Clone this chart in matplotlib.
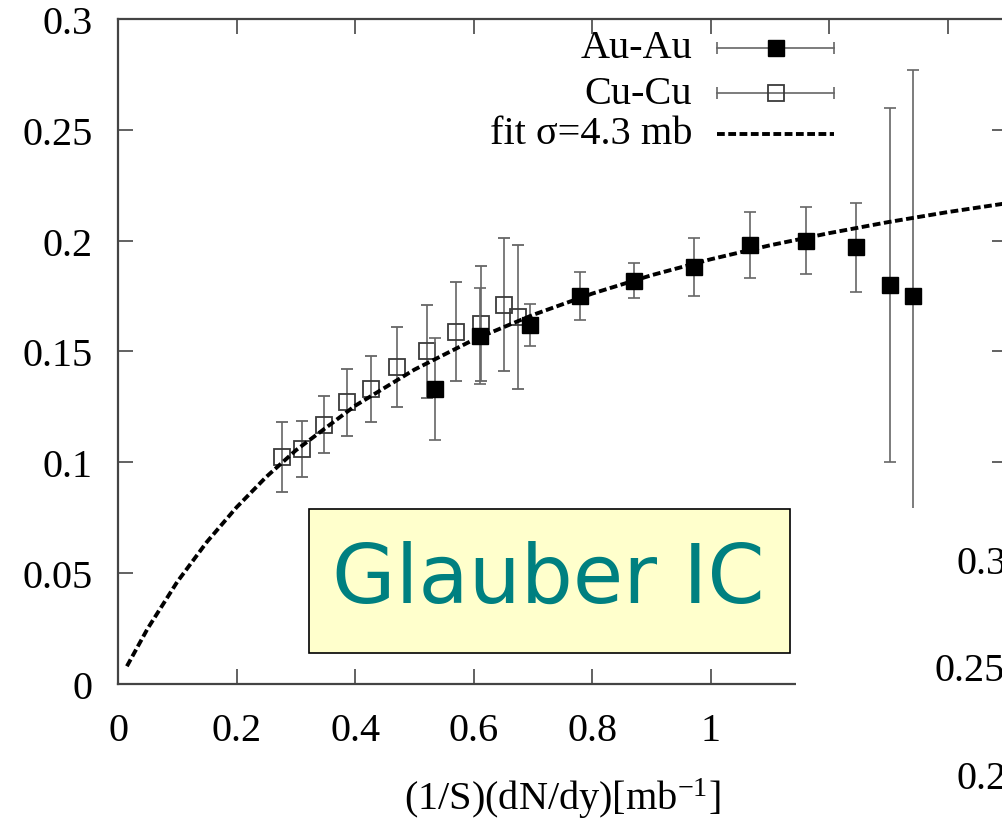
import matplotlib
matplotlib.use("Agg")
import matplotlib.pyplot as plt
from matplotlib.patches import Rectangle
from matplotlib.ticker import FormatStrFormatter, MultipleLocator

plt.rcParams['font.family'] = ['Liberation Serif', 'DejaVu Serif']
plt.rcParams['mathtext.fontset'] = 'custom'
plt.rcParams['mathtext.rm'] = 'Liberation Serif'
plt.rcParams['mathtext.it'] = 'Liberation Serif:italic'

# Au-Au points (filled squares)
au_x = [0.535, 0.611, 0.695, 0.780, 0.871, 0.972, 1.067, 1.161, 1.245, 1.303, 1.342]
au_y = [0.133, 0.157, 0.162, 0.175, 0.182, 0.188, 0.198, 0.200, 0.197, 0.180, 0.175]
au_err = [0.023, 0.0215, 0.0095, 0.011, 0.008, 0.013, 0.015, 0.015, 0.020, 0.080, 0.102]

# Cu-Cu points (open squares)
cu_x = [0.277, 0.311, 0.348, 0.387, 0.427, 0.471, 0.521, 0.570, 0.613, 0.651, 0.675]
cu_y = [0.1024, 0.106, 0.117, 0.127, 0.133, 0.143, 0.150, 0.159, 0.1625, 0.171, 0.1655]
cu_err = [0.016, 0.0126, 0.013, 0.015, 0.015, 0.018, 0.021, 0.0225, 0.026, 0.030, 0.0325]

# fit curve, sigma = 4.3 mb
fit_x = [0.015, 0.05, 0.1, 0.15, 0.2, 0.25, 0.3, 0.4, 0.5, 0.6, 0.7, 0.8, 0.9,
         1.0, 1.1, 1.2, 1.3, 1.4, 1.5]
fit_y = [0.0080, 0.0250, 0.0461, 0.0641, 0.0797, 0.0934, 0.1054, 0.1255, 0.1418,
         0.1553, 0.1665, 0.1761, 0.1844, 0.1916, 0.1979, 0.2034, 0.2084, 0.2129, 0.2169]

W, H = 1002, 820
fig = plt.figure(figsize=(W / 100, H / 100), dpi=100)
# right spine sits just outside the picture (cropped original)
ax = fig.add_axes([118 / W, (H - 685) / H, 889 / W, 665 / H])

bar_col = '#666666'
fit_ls = (0, (2.0, 0.9))
ax.errorbar(cu_x, cu_y, yerr=cu_err, fmt='s', ms=11.5, mfc='none', mec='#3a3a3a',
            mew=1.3, ecolor=bar_col, elinewidth=1.2, capsize=4.3, capthick=1.2, zorder=3)
ax.errorbar(au_x, au_y, yerr=au_err, fmt='s', ms=12, mfc='black', mec='black',
            ecolor=bar_col, elinewidth=1.2, capsize=4.3, capthick=1.2, zorder=4)
ax.plot(fit_x, fit_y, color='black', lw=2.8, ls=fit_ls, zorder=5)

ax.set_xlim(0, 1.5)
ax.set_ylim(0, 0.3)
ax.xaxis.set_major_locator(MultipleLocator(0.2))
ax.yaxis.set_major_locator(MultipleLocator(0.05))
ax.xaxis.set_major_formatter(FormatStrFormatter('%g'))
ax.yaxis.set_major_formatter(FormatStrFormatter('%g'))
ax.tick_params(direction='in', length=11, width=1.3, color='#555555',
               top=True, right=True, labelsize=29)
ax.tick_params(axis='y', pad=18)
ax.tick_params(axis='x', pad=20)
for s in ax.spines.values():
    s.set_linewidth(1.6)
    s.set_color('#444444')

ax.set_xlabel(r'(1/S)(dN/dy)[mb$^{\mathrm{-1}}$]', fontsize=29, labelpad=19)

# legend, gnuplot style (text right-aligned, sample to the right)
rows = [0.9564, 0.8887, 0.8271]
labels = ['Au-Au', 'Cu-Cu', 'fit σ=4.3 mb']
for yy, lab in zip(rows, labels):
    ax.text(0.6457, yy, lab, transform=ax.transAxes, ha='right', va='center',
            fontsize=29)
x0, x1, xm = 0.6738, 0.8054, 0.740
for yy, style in zip(rows[:2], ['full', 'open']):
    ax.plot([x0, x1], [yy, yy], transform=ax.transAxes, color=bar_col, lw=1.2)
    ax.plot([x0, x1], [yy, yy], transform=ax.transAxes, ls='none', marker='|',
            ms=9, mew=1.2, color=bar_col)
    if style == 'full':
        ax.plot([xm], [yy], transform=ax.transAxes, marker='s', ms=12,
                color='black')
    else:
        ax.plot([xm], [yy], transform=ax.transAxes, marker='s', ms=11.5,
                mfc='none', mec='#3a3a3a', mew=1.3)
ax.plot([x0, x1], [rows[2], rows[2]], transform=ax.transAxes, color='black',
        lw=2.8, ls=fit_ls)

# "Glauber IC" label box
fig.add_artist(Rectangle((309 / W, (H - 654) / H), 481 / W, 144 / H,
                         transform=fig.transFigure, facecolor='#ffffcc',
                         edgecolor='black', lw=1.2, zorder=10))
fig.text(548 / W, (H - 580) / H, 'Glauber IC', color='#008080', fontsize=59,
         family='DejaVu Sans', ha='center', va='center', zorder=11)

# white panel covering bottom-right corner, with labels of the next plot
fig.add_artist(Rectangle((796 / W, 0), 1 - 796 / W + 0.01, (H - 509) / H,
                         transform=fig.transFigure, facecolor='white',
                         edgecolor='none', zorder=10))
for xp, yp, t in [(957, 565, '0.3'), (935, 672, '0.25'), (957, 780, '0.2')]:
    fig.text(xp / W, (H - yp) / H, t, fontsize=29, ha='left', va='center',
             zorder=11)

fig.savefig('out.png', dpi=100)
